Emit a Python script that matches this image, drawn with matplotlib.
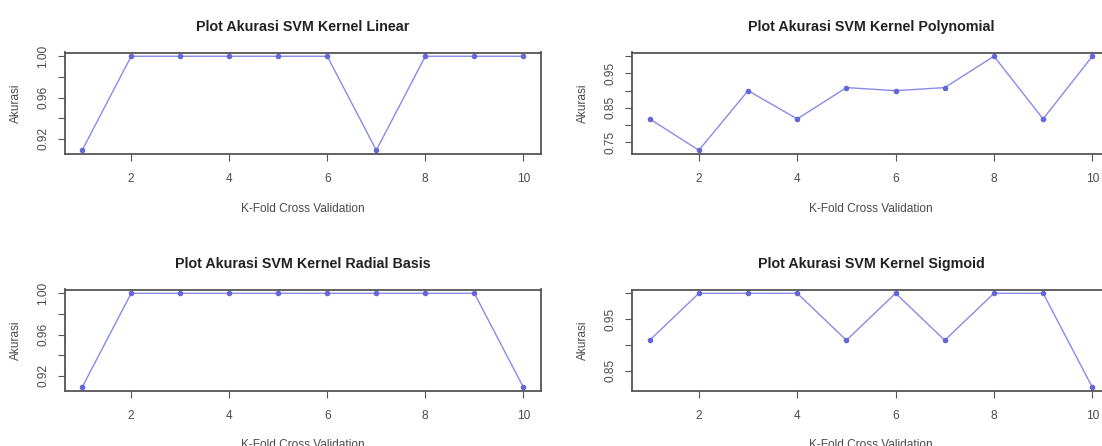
import matplotlib
matplotlib.use("Agg")
import matplotlib.pyplot as plt

plt.rcParams['font.family'] = ['Liberation Sans', 'DejaVu Sans']

# akurasi per fold (10-fold CV)
folds = [1, 2, 3, 4, 5, 6, 7, 8, 9, 10]
acc_linear = [0.909, 1.0, 1.0, 1.0, 1.0, 1.0, 0.909, 1.0, 1.0, 1.0]
acc_poly = [0.818, 0.727, 0.900, 0.818, 0.909, 0.900, 0.909, 1.0, 0.818, 1.0]
acc_radial = [0.909, 1.0, 1.0, 1.0, 1.0, 1.0, 1.0, 1.0, 1.0, 0.909]
acc_sigmoid = [0.909, 1.0, 1.0, 1.0, 0.909, 1.0, 0.909, 1.0, 1.0, 0.818]

titles = ["Plot Akurasi SVM Kernel Linear", "Plot Akurasi SVM Kernel Polynomial",
          "Plot Akurasi SVM Kernel Radial Basis", "Plot Akurasi SVM Kernel Sigmoid"]
x_ticks = [2, 4, 6, 8, 10]
y_ticks = [[0.92, 0.94, 0.96, 0.98, 1.00],
           [0.75, 0.80, 0.85, 0.90, 0.95, 1.00],
           [0.92, 0.94, 0.96, 0.98, 1.00],
           [0.85, 0.90, 0.95, 1.00]]
y_labels = [["0.92", "", "0.96", "", "1.00"],
            ["0.75", "", "0.85", "", "0.95", ""],
            ["0.92", "", "0.96", "", "1.00"],
            ["0.85", "", "0.95", ""]]
series = [acc_linear, acc_poly, acc_radial, acc_sigmoid]

W, H = 1102, 446
fig = plt.figure(figsize=(W / 100, H / 100), dpi=100)

# axes boxes in pixels: (left, top, width, height)
boxes = [(64.5, 52.5, 476.5, 101.5), (632, 52.5, 478, 101.5),
         (64.5, 289.5, 476.5, 101.5), (632, 289.5, 478, 101.5)]

for i in range(4):
    x0, y0, w, h = boxes[i]
    ax = fig.add_axes([x0 / W, 1 - (y0 + h) / H, w / W, h / H])
    ax.plot(folds, series[i], color='#8a8ae8', lw=1.0, marker='o',
            markersize=3.0, markerfacecolor='#6666d6', markeredgecolor='#6666d6')
    ax.margins(x=0.04, y=0.04)
    ax.set_xticks(x_ticks)
    ax.set_yticks(y_ticks[i])
    ax.set_yticklabels(y_labels[i], rotation=90, va='center')
    ax.tick_params(length=5, width=0.8, color='#555555', labelsize=8.6,
                   labelcolor='#4a4a4a', pad=6)
    ax.tick_params(axis='x', pad=8.5)
    for s in ax.spines.values():
        s.set_color('#555555')
        s.set_linewidth(1.3)
    ax.set_title(titles[i], fontsize=10.3, fontweight='bold', pad=15.5,
                 color='#222222')
    ax.set_xlabel("K-Fold Cross Validation", fontsize=8.6, color='#4a4a4a')
    ax.set_ylabel("Akurasi", fontsize=8.6, color='#4a4a4a')
    ax.xaxis.set_label_coords(0.5, -48.5 / h)
    ax.yaxis.set_label_coords(-43 / w, 0.5)

fig.savefig("out.png", dpi=100, facecolor='white')
